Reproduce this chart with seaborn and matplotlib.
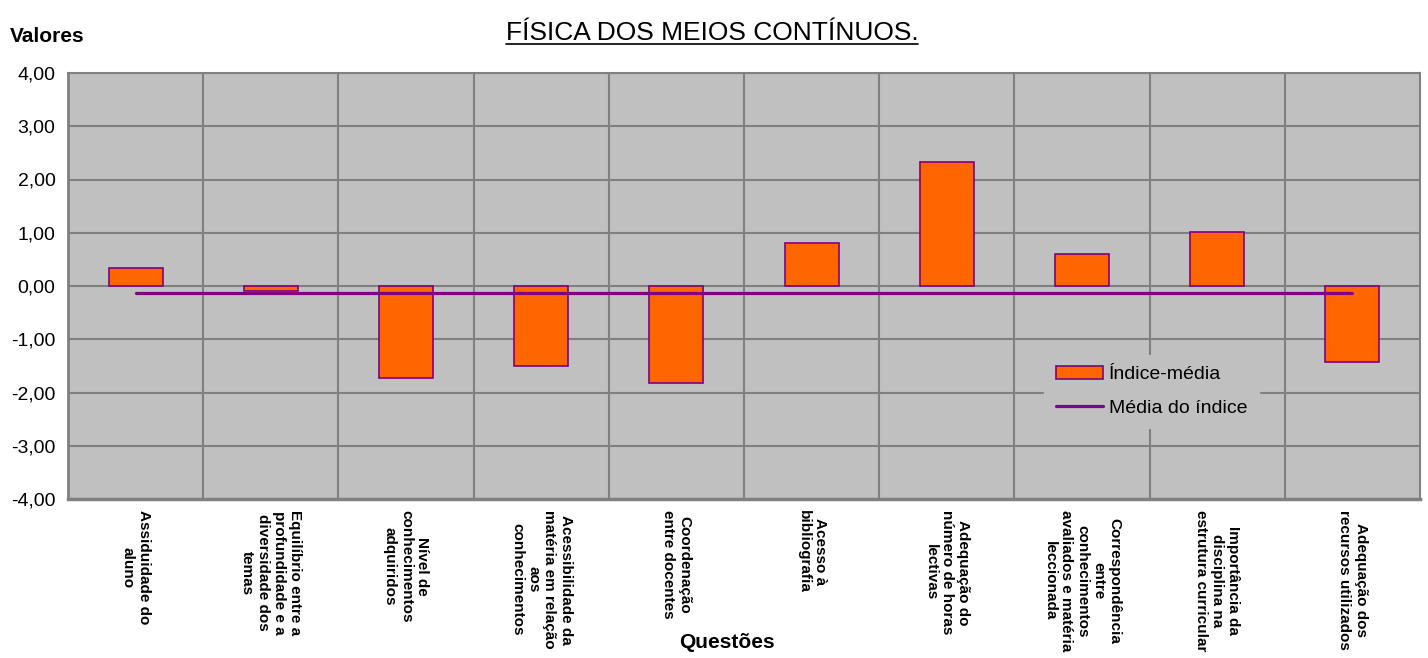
import matplotlib
matplotlib.use('Agg')

import numpy as np
import pandas as pd
import matplotlib.pyplot as plt
import seaborn as sns
from matplotlib.lines import Line2D

questoes = [
    "Assiduidade do\naluno",
    "Equilíbrio entre a\nprofundidade e a\ndiversidade dos\ntemas",
    "Nível de\nconhecimentos\nadquiridos",
    "Acessibilidade da\nmatéria em relação\naos\nconhecimentos",
    "Coordenação\nentre docentes",
    "Acesso à\nbibliografia",
    "Adequação do\nnúmero de horas\nlectivas",
    "Correspondência\nentre\nconhecimentos\navaliados e matéria\nleccionada",
    "Importância da\ndisciplina na\nestrutura curricular",
    "Adequação dos\nrecursos utilizados",
]
indice_media = [0.34, -0.09, -1.73, -1.50, -1.82, 0.81, 2.33, 0.60, 1.01, -1.43]
media_indice = [-0.13] * 10
y_ticks = [-4, -3, -2, -1, 0, 1, 2, 3, 4]

BG = '#C0C0C0'
GRID = '#808080'
ORANGE = '#FF6600'
PURPLE = '#800080'

sns.set_style('white')
plt.rcParams['font.family'] = ['Liberation Sans', 'DejaVu Sans']
plt.rcParams['text.color'] = 'black'
plt.rcParams['xtick.color'] = 'black'
plt.rcParams['ytick.color'] = 'black'

df = pd.DataFrame({'questao': questoes, 'valor': indice_media,
                   'media': media_indice, 'pos': range(len(questoes))})

fig = plt.figure(figsize=(14.28, 6.58), dpi=100)
ax = fig.add_axes([68/1428, 1 - 499/658, 1352/1428, 426/658])
ax.set_facecolor(BG)

sns.barplot(data=df, x='questao', y='valor', color=ORANGE, saturation=1,
            edgecolor=PURPLE, linewidth=1.2, width=0.4, label='Índice-média',
            ax=ax, zorder=3)
sns.lineplot(data=df, x='pos', y='media', color=PURPLE, linewidth=2.3,
             label='Média do índice', ax=ax, zorder=4)

ax.set_xlim(-0.5, len(questoes) - 0.5)
ax.set_ylim(-4, 4)
ax.set_yticks(y_ticks)
ax.set_yticklabels([f"{v:.2f}".replace('.', ',') for v in y_ticks], fontsize=14)
ax.set_xticks(range(len(questoes)))
ax.set_xticklabels(questoes, rotation=-90, fontsize=11, fontweight='bold',
                   va='top', ha='center', multialignment='center')
ax.set_xticks(np.arange(0.5, len(questoes) - 1, 1), minor=True)
ax.tick_params(axis='x', which='both', length=0, pad=8)
ax.tick_params(axis='y', length=6, width=1.2, color=GRID, labelcolor='black', pad=3)

ax.grid(axis='y', which='major', color=GRID, linewidth=1.5, zorder=0)
ax.grid(axis='x', which='minor', color=GRID, linewidth=1.5, zorder=0)
ax.set_axisbelow(True)
for s in ax.spines.values():
    s.set_color(GRID)
    s.set_linewidth(1.5)
ax.spines['left'].set_linewidth(2)
ax.spines['bottom'].set_linewidth(2.5)

ax.set_xlabel('')
ax.set_ylabel('')

handles, labels = ax.get_legend_handles_labels()
order = [labels.index('Índice-média'), labels.index('Média do índice')]
leg = ax.legend([handles[i] for i in order], [labels[i] for i in order],
                loc='upper left', bbox_to_anchor=(0.715, 0.362), fontsize=14,
                frameon=True, facecolor=BG, edgecolor=BG, framealpha=1,
                fancybox=False, handlelength=2.4, handleheight=0.6,
                handletextpad=0.3, borderpad=0.6, labelspacing=0.85)

fig.text(10/1428, 1 - 37/658, 'Valores', fontsize=15, fontweight='bold',
         ha='left', va='center')
fig.text(727/1428, 1 - 642/658, 'Questões', fontsize=15, fontweight='bold',
         ha='center', va='center')
title = fig.text(712/1428, 1 - 33/658, 'FÍSICA DOS MEIOS CONTÍNUOS.',
                 fontsize=19, ha='center', va='center')

# underline the title
fig.canvas.draw()
bb = title.get_window_extent().transformed(fig.transFigure.inverted())
fig.add_artist(Line2D([bb.x0, bb.x1], [bb.y0 + 0.002, bb.y0 + 0.002],
                      transform=fig.transFigure, color='black', linewidth=1.2))

fig.savefig('out.png', dpi=100)
